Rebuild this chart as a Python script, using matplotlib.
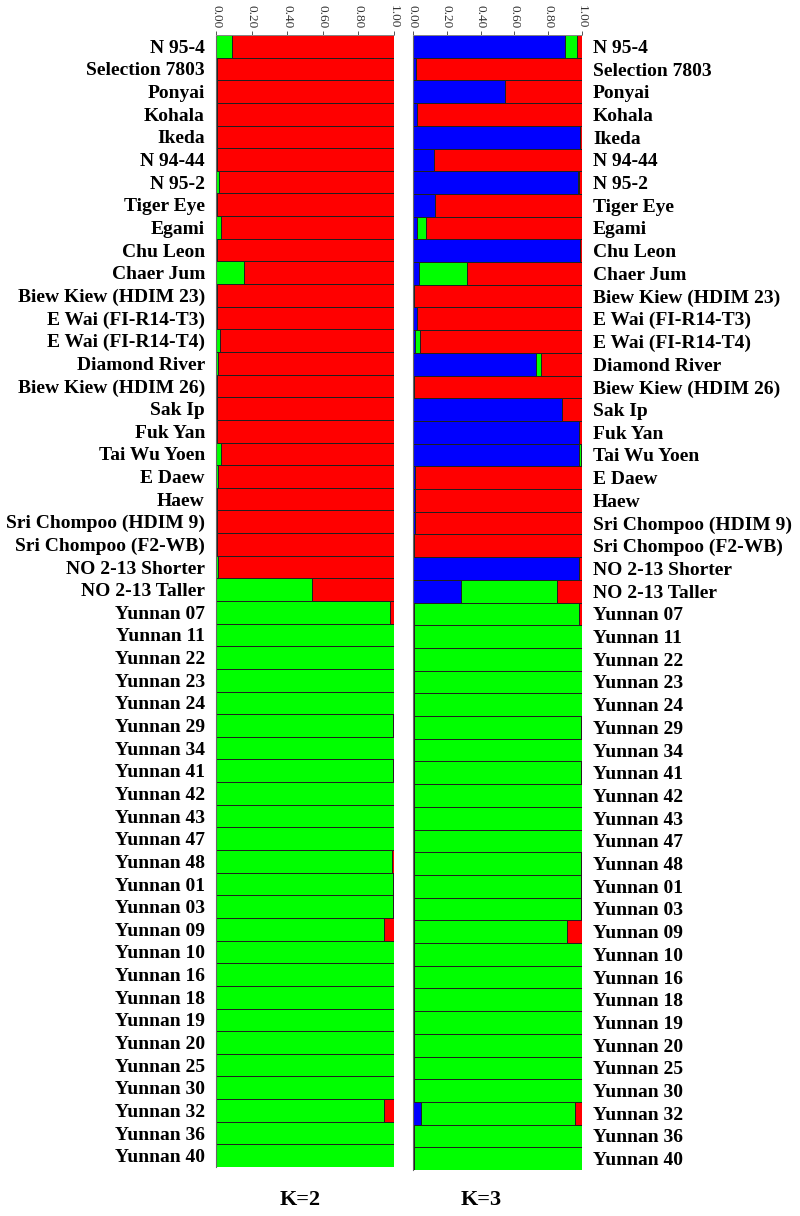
import numpy as np
import matplotlib
matplotlib.use('Agg')
import matplotlib.pyplot as plt

samples = ['N 95-4', 'Selection 7803', 'Ponyai', 'Kohala', 'Ikeda', 'N 94-44', 'N 95-2',
           'Tiger Eye', 'Egami', 'Chu Leon', 'Chaer Jum', 'Biew Kiew (HDIM 23)',
           'E Wai (FI-R14-T3)', 'E Wai (FI-R14-T4)', 'Diamond River', 'Biew Kiew (HDIM 26)',
           'Sak Ip', 'Fuk Yan', 'Tai Wu Yoen', 'E Daew', 'Haew', 'Sri Chompoo (HDIM 9)',
           'Sri Chompoo (F2-WB)', 'NO 2-13 Shorter', 'NO 2-13 Taller',
           'Yunnan 07', 'Yunnan 11', 'Yunnan 22', 'Yunnan 23', 'Yunnan 24', 'Yunnan 29',
           'Yunnan 34', 'Yunnan 41', 'Yunnan 42', 'Yunnan 43', 'Yunnan 47', 'Yunnan 48',
           'Yunnan 01', 'Yunnan 03', 'Yunnan 09', 'Yunnan 10', 'Yunnan 16', 'Yunnan 18',
           'Yunnan 19', 'Yunnan 20', 'Yunnan 25', 'Yunnan 30', 'Yunnan 32', 'Yunnan 36',
           'Yunnan 40']

# K=2 : green cluster share (rest is red)
k2_green = [0.09, 0.005, 0.005, 0.005, 0.005, 0.005, 0.015, 0.005, 0.03, 0.005,
            0.16, 0.005, 0.005, 0.025, 0.01, 0.005, 0.005, 0.005, 0.03, 0.01,
            0.005, 0.005, 0.005, 0.01, 0.54,
            0.98, 1.0, 1.0, 1.0, 1.0, 0.995, 1.0, 0.995, 1.0, 1.0, 1.0, 0.99,
            0.995, 0.995, 0.945, 1.0, 1.0, 1.0, 1.0, 1.0, 1.0, 1.0, 0.945, 1.0, 1.0]

# K=3 : blue and green shares (rest is red)
k3_blue = [0.90, 0.015, 0.545, 0.025, 0.99, 0.125, 0.975, 0.13, 0.025, 0.99,
           0.035, 0.005, 0.025, 0.01, 0.73, 0.005, 0.88, 0.985, 0.985, 0.01,
           0.01, 0.01, 0.005, 0.98, 0.285,
           0.005, 0.005, 0.005, 0.005, 0.005, 0.005, 0.005, 0.005, 0.005, 0.005,
           0.005, 0.005, 0.005, 0.005, 0.005, 0.005, 0.005, 0.005, 0.005, 0.005,
           0.005, 0.005, 0.045, 0.005, 0.005]
k3_green = [0.07, 0.0, 0.0, 0.0, 0.0, 0.0, 0.01, 0.0, 0.05, 0.0,
            0.285, 0.0, 0.0, 0.03, 0.025, 0.0, 0.0, 0.0, 0.01, 0.0,
            0.0, 0.0, 0.0, 0.0, 0.565,
            0.975, 0.995, 0.995, 0.995, 0.995, 0.99, 0.995, 0.99, 0.995, 0.995,
            0.995, 0.99, 0.99, 0.99, 0.905, 0.995, 0.995, 0.995, 0.995, 0.995,
            0.995, 0.995, 0.915, 0.995, 0.995]

RED = '#ff0000'
GREEN = '#00ff00'
BLUE = '#0000ff'
EDGE = '#202020'
font = ['Liberation Serif', 'DejaVu Serif']

fig = plt.figure(figsize=(8, 12.16), dpi=100)
axL = fig.add_axes([0.27, 0.0403, 0.2225, 0.9309])
axR = fig.add_axes([0.51625, 0.0378, 0.21125, 0.9334])

n = len(samples)
y = np.arange(n)
g2 = np.array(k2_green)
b3 = np.array(k3_blue)
g3 = np.array(k3_green)

axL.barh(y, g2, height=1.0, color=GREEN, edgecolor=EDGE, linewidth=0.7)
axL.barh(y, 1 - g2, left=g2, height=1.0, color=RED, edgecolor=EDGE, linewidth=0.7)

axR.barh(y, b3, height=1.0, color=BLUE, edgecolor=EDGE, linewidth=0.7)
axR.barh(y, g3, left=b3, height=1.0, color=GREEN, edgecolor=EDGE, linewidth=0.7)
axR.barh(y, 1 - b3 - g3, left=b3 + g3, height=1.0, color=RED, edgecolor=EDGE, linewidth=0.7)

ticks = [0, 0.2, 0.4, 0.6, 0.8, 1.0]
for ax in (axL, axR):
    ax.set_xlim(0, 1.0)
    ax.set_ylim(n - 0.5, -0.5)
    ax.xaxis.tick_top()
    ax.set_xticks(ticks)
    ax.set_xticklabels(['%.2f' % t for t in ticks], rotation=-90, fontsize=9.5,
                       color='#333333', family=font)
    ax.tick_params(axis='x', length=3, width=0.7, color='#555555', pad=2)
    for s in ('right', 'bottom'):
        ax.spines[s].set_visible(False)
    ax.spines['top'].set_color('#999999')
    ax.spines['left'].set_color('#666666')
    ax.spines['top'].set_linewidth(0.6)
    ax.spines['left'].set_linewidth(0.8)

axL.set_yticks(y)
axL.set_yticklabels(samples, fontsize=14, fontweight='bold', family=font)
axL.tick_params(axis='y', length=0, pad=8)

axR.yaxis.tick_right()
axR.set_yticks(y)
axR.set_yticklabels(samples, fontsize=14, fontweight='bold', family=font)
axR.tick_params(axis='y', length=0, pad=8)

fig.text(0.375, 0.005, 'K=2', ha='center', va='bottom', fontsize=16,
         fontweight='bold', family=font)
fig.text(0.602, 0.005, 'K=3', ha='center', va='bottom', fontsize=16,
         fontweight='bold', family=font)

fig.savefig('out.png', dpi=100)
